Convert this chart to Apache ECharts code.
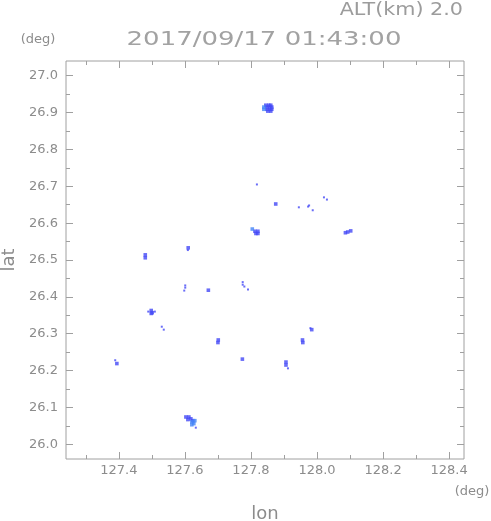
<!DOCTYPE html>
<html>
<head>
<meta charset="utf-8">
<script src="https://cdn.jsdelivr.net/npm/echarts@6/dist/echarts.min.js"></script>
<style>
html,body{margin:0;padding:0;background:#fff;}
#chart{width:491px;height:521px;}
</style>
</head>
<body>
<div id="chart"></div>
<script>
// ---- data (lon, lat) ----
var darkCells = [
  [127.845,26.920],[127.854,26.920],[127.860,26.920],
  [127.848,26.915],[127.857,26.915],[127.863,26.915],
  [127.848,26.909],[127.857,26.909],[127.863,26.909],
  [127.851,26.904],[127.860,26.904],
  [127.875,26.652],
  [127.812,26.578],[127.821,26.578],[127.815,26.572],[127.821,26.572],
  [127.610,26.533],
  [128.086,26.574],[128.093,26.576],[128.102,26.579],
  [127.984,26.311],
  [127.956,26.283],[127.957,26.276],
  [127.480,26.514],[127.480,26.506],
  [127.671,26.418],
  [127.498,26.363],[127.498,26.355],[127.501,26.357],
  [127.701,26.283],[127.700,26.276],
  [127.774,26.231],
  [127.906,26.223],[127.906,26.215],
  [127.394,26.219],
  [127.603,26.074],[127.612,26.074],[127.609,26.067],[127.618,26.069],[127.624,26.064]
];
var lightCells = [
  [127.839,26.915],[127.839,26.909],
  [127.804,26.584],
  [127.621,26.061],[127.630,26.064],[127.627,26.056],[127.621,26.053]
];
var specks = [
  [127.818,26.705],
  [127.945,26.643],[127.973,26.645],[127.976,26.648],[127.987,26.635],
  [127.609,26.527],
  [128.021,26.670],[128.030,26.664],
  [127.775,26.440],[127.775,26.433],[127.780,26.428],[127.791,26.420],
  [127.980,26.315],
  [127.601,26.431],[127.601,26.425],[127.598,26.417],
  [127.489,26.360],[127.509,26.360],
  [127.530,26.319],[127.536,26.311],
  [127.912,26.206],
  [127.389,26.228],
  [127.633,26.045]
];
var xMajorTicks = [127.4,127.6,127.8,128.0,128.2,128.4];
var xMinorTicks = [127.3,127.5,127.7,127.9,128.1,128.3];
var yMajorTicks = [26.0,26.1,26.2,26.3,26.4,26.5,26.6,26.7,26.8,26.9,27.0];
var yMinorTicks = [26.05,26.15,26.25,26.35,26.45,26.55,26.65,26.75,26.85,26.95];
var xRange = [127.24,128.445];
var yRange = [25.96,27.04];
var titleText = '2017/09/17 01:43:00';
var altText = 'ALT(km) 2.0';

// ---- chart ----
var gray = '#a0a0a0';
var txt = '#8c8c8c';
var font = 'DejaVu Sans';
function xAx(pos, vals, len, labels){
  return {
    type:'value', position:pos, min:xRange[0], max:xRange[1],
    axisLine:{show:false}, splitLine:{show:false},
    axisTick:{show:true, inside:true, length:len, customValues:vals, lineStyle:{color:gray,width:1}},
    axisLabel:{show:labels, customValues:vals, color:txt, fontFamily:font, fontSize:13, margin:5,
      formatter:function(v){return Number(v).toFixed(1);}},
    name: (labels && pos==='bottom') ? 'lon' : '',
    nameLocation:'middle', nameGap:46,
    nameTextStyle:{color:txt, fontFamily:font, fontSize:18}
  };
}
function yAx(pos, vals, len, labels){
  return {
    type:'value', position:pos, min:yRange[0], max:yRange[1],
    axisLine:{show:false}, splitLine:{show:false},
    axisTick:{show:true, inside:true, length:len, customValues:vals, lineStyle:{color:gray,width:1}},
    axisLabel:{show:labels, customValues:vals, color:txt, fontFamily:font, fontSize:13, margin:8,
      formatter:function(v){return Number(v).toFixed(1);}},
    name: (labels && pos==='left') ? 'lat' : '',
    nameLocation:'middle', nameGap:48, nameRotate:90,
    nameTextStyle:{color:txt, fontFamily:font, fontSize:18}
  };
}
var chart = echarts.init(document.getElementById('chart'), null, {renderer:'canvas'});
chart.setOption({
  animation:false,
  backgroundColor:'#ffffff',
  grid:{left:66, top:61, right:27, bottom:62, containLabel:false, outerBoundsMode:'none',
    show:true, borderColor:gray, borderWidth:1, backgroundColor:'transparent'},
  xAxis:[
    xAx('bottom', xMajorTicks, 7, true),
    xAx('bottom', xMinorTicks, 4, false),
    xAx('top', xMajorTicks, 7, false),
    xAx('top', xMinorTicks, 4, false)
  ],
  yAxis:[
    yAx('left', yMajorTicks, 7, true),
    yAx('left', yMinorTicks, 4, false),
    yAx('right', yMajorTicks, 7, false),
    yAx('right', yMinorTicks, 4, false)
  ],
  series:[
    {type:'scatter', data:darkCells, symbol:'rect', symbolSize:[3.6,3.6], itemStyle:{color:'#4448f6'}, silent:true},
    {type:'scatter', data:lightCells, symbol:'rect', symbolSize:[3.6,3.6], itemStyle:{color:'#4484f6'}, silent:true},
    {type:'scatter', data:specks, symbol:'rect', symbolSize:[2,2], itemStyle:{color:'#4448f6'}, silent:true}
  ],
  graphic:[
    {type:'text', x:463, y:10, scaleX:1.15, style:{text:altText, fill:'#9c9c9c', font:'18px "DejaVu Sans"', align:'right', verticalAlign:'middle'}},
    {type:'text', x:264, y:40, scaleX:1.3, style:{text:titleText, fill:'#a2a2a2', font:'20px "DejaVu Sans"', align:'center', verticalAlign:'middle'}},
    {type:'text', x:38, y:40, style:{text:'(deg)', fill:txt, font:'13px "DejaVu Sans"', align:'center', verticalAlign:'middle'}},
    {type:'text', x:472, y:492, style:{text:'(deg)', fill:txt, font:'13px "DejaVu Sans"', align:'center', verticalAlign:'middle'}}
  ]
});
</script>
</body>
</html>
